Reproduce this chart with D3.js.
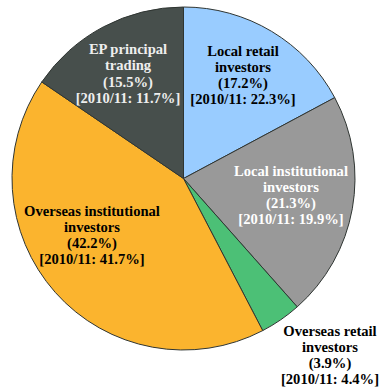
<!DOCTYPE html>
<html><head><meta charset="utf-8">
<script src="https://cdn.jsdelivr.net/npm/d3@7"></script>
<style>html,body{margin:0;padding:0;background:#fff;}</style>
</head><body>
<svg id="chart" width="380" height="392"></svg>
<script>
const categories = ["Local retail investors", "Local institutional investors", "Overseas retail investors", "Overseas institutional investors", "EP principal trading"];
const shares = [17.2, 21.3, 3.9, 42.2, 15.5];
const prevShares = [22.3, 19.9, 4.4, 41.7, 11.7];
const labelLines = [
  ["Local retail", "investors"],
  ["Local institutional", "investors"],
  ["Overseas retail", "investors"],
  ["Overseas institutional", "investors"],
  ["EP principal", "trading"]
];
const colors = ["#99CCFF", "#999999", "#4CC076", "#FBB42E", "#474F4C"];
const textColors = ["#000", "#fff", "#000", "#000", "#eee"];
// label block centre positions (px offsets relative to pie centre)
const labelPos = [[59.5, -103.5], [107.5, 16.5], [146.5, 176.5], [-91.5, 56.5], [-55.5, -105]];

const svg = d3.select("#chart");
const cx = 183.5, cy = 178.5, r = 171.5;
const g = svg.append("g").attr("transform", `translate(${cx},${cy})`);
const pie = d3.pie().sort(null).value(d => d)(shares);
const arc = d3.arc().innerRadius(0).outerRadius(r);
g.selectAll("path").data(pie).join("path")
  .attr("d", arc)
  .attr("fill", (d, i) => colors[i])
  .attr("stroke", "#2f3532")
  .attr("stroke-width", 1);

const lh = 16.3, fs = 14.6;
pie.forEach((d, i) => {
  const lines = [...labelLines[i], `(${shares[i].toFixed(1)}%)`, `[2010/11: ${prevShares[i].toFixed(1)}%]`];
  const t = g.append("text")
    .attr("text-anchor", "middle")
    .attr("font-family", "'Liberation Serif','Times New Roman',serif")
    .attr("font-weight", "bold")
    .attr("font-size", fs)
    .attr("fill", textColors[i]);
  lines.forEach((l, k) => {
    t.append("tspan")
      .attr("x", labelPos[i][0])
      .attr("y", labelPos[i][1] + (k - 1.5) * lh + 5)
      .text(l);
  });
});
</script>
</body></html>
